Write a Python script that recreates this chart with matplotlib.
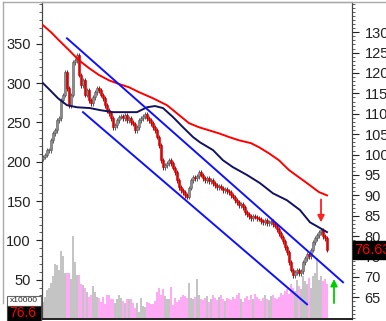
import matplotlib
matplotlib.use("Agg")
import matplotlib.pyplot as plt
import numpy as np
from matplotlib.patches import Rectangle

plt.rcParams['font.family'] = ['Liberation Sans', 'DejaVu Sans']

# ---------------- data ----------------
closes = [99.4, 99.9, 101.1, 101.1, 103.5, 105.2, 106.0, 108.4, 108.9, 113.3,
          114.6, 120.2, 116.3, 112.1, 114.6, 122.6, 123.1, 124.4, 119.5, 117.0,
          118.2, 114.6, 115.8, 113.3, 112.6, 114.1, 115.3, 116.3, 115.8, 114.6,
          113.8, 112.1, 110.9, 110.1, 108.9, 106.7, 107.2, 108.4, 109.2, 109.4,
          108.9, 109.7, 108.4, 108.9, 107.9, 107.5, 106.0, 106.7, 108.4, 108.9,
          109.4, 109.9, 108.9, 108.4, 107.7, 106.7, 106.0, 104.3, 102.3, 98.6,
          96.9, 97.4, 97.9, 98.6, 97.9, 96.7, 95.7, 93.7, 92.0, 91.3,
          90.8, 90.0, 89.6, 91.8, 93.7, 94.5, 94.2, 94.7, 95.7, 95.0,
          94.2, 93.7, 94.2, 93.5, 93.7, 93.0, 92.5, 92.0, 92.3, 91.8,
          91.3, 91.5, 91.0, 90.8, 90.0, 89.6, 88.8, 88.3, 87.6, 87.8,
          87.1, 85.9, 85.4, 84.9, 84.4, 84.9, 84.7, 84.4, 84.2, 83.7,
          83.4, 83.9, 83.2, 83.4, 83.7, 82.9, 82.5, 81.7, 80.7, 79.8,
          78.8, 77.3, 76.1, 73.6, 71.7, 70.4, 71.2, 71.7, 70.9, 71.4,
          73.6, 74.6, 75.6, 75.1, 76.6, 78.5, 79.5, 80.2, 81.0, 81.5,
          80.0, 79.5, 76.63]
first_open = 99.0

volumes = [21, 28, 37, 39, 46, 55, 70, 69, 62, 86, 80, 58, 58, 58, 51, 106, 72, 56, 56, 44,
           43, 39, 34, 28, 31, 42, 34, 28, 27, 22, 28, 19, 31, 31, 25, 25, 20, 25, 31, 27,
           23, 20, 26, 25, 25, 20, 14, 20, 9, 27, 17, 15, 21, 20, 19, 19, 23, 34, 40, 31,
           38, 29, 25, 25, 41, 18, 27, 22, 24, 28, 31, 29, 27, 46, 27, 26,
           28, 51, 30, 26, 24, 27, 29, 22, 25, 31, 27, 24, 28, 30, 26, 23, 27, 25,
           24, 28, 26, 30, 33, 25, 22, 27, 29, 24, 31, 26, 32, 28, 25, 23, 27, 30, 26, 24,
           29, 31, 27, 25, 28, 33, 30,
           35, 38, 32, 45, 40, 36, 50, 42, 38, 55, 48, 44, 52, 40, 55, 58, 78, 50, 55, 48, 51, 45]

# long moving average (red)
ma_long_idx = [0, 4, 8, 13, 18, 23, 28, 33, 38, 43, 48, 55, 62, 68, 73, 78, 88, 93, 98,
               104, 108, 113, 118, 123, 132, 138, 142]
ma_long_val = [131.7, 130.0, 128.0, 125.6, 123.1, 121.2, 119.5, 118.2, 117.3, 116.5,
               115.3, 113.8, 112.1, 109.7, 107.7, 106.7, 105.2, 104.3, 103.5, 102.8,
               101.8, 100.3, 98.6, 96.2, 93.0, 90.8, 90.0]
# medium moving average (navy)
ma_mid_idx = [0, 3.5, 7.5, 12, 17, 23.5, 28.5, 35, 42, 47, 52, 56, 60, 65, 70, 75, 78.5,
              85, 90, 95, 102, 108.5, 115, 122, 128.5, 133.5, 138.5, 142]
ma_mid_val = [117.5, 115.8, 113.8, 112.1, 111.6, 111.4, 110.9, 110.4, 110.4, 110.4,
              111.6, 111.9, 111.4, 109.2, 106.7, 104.3, 103.0, 101.1, 98.6, 96.9,
              95.0, 93.0, 90.5, 88.8, 86.4, 83.4, 82.0, 81.0]
# trend channel (blue)
chan_upper = [(12, 128.5), (150, 68.7)]
chan_lower = [(20, 110.4), (132, 63.3)]

last_price_label = "76.63"
vol_ticks = [50, 100, 150, 200, 250, 300, 350]
price_ticks = [65, 70, 75, 80, 85, 90, 95, 100, 105, 110, 115, 120, 125, 130]

# ---------------- figure ----------------
W, H = 386, 321
fig = plt.figure(figsize=(W / 100, H / 100), dpi=100)
pos = [42 / W, 1 - 319 / H, (352 - 42) / W, (319 - 2) / H]
axv = fig.add_axes(pos)
axp = axv.twinx()

n = len(closes)
x = np.arange(n)
opens = [first_open] + closes[:-1]

up = [c >= o for o, c in zip(opens, closes)]
vcols = ['#c4c4c4' if u else '#ffaaf5' for u in up]
axv.bar(x, volumes, width=0.75, color=vcols, linewidth=0)
axv.set_ylim(0, 403)
axv.set_xlim(-0.5, 154.5)

# candles
for i in range(n):
    o, c = opens[i], closes[i]
    lo, hi = min(o, c), max(o, c)
    col = '#8c8c8c' if up[i] else '#e00000'
    ecol = '#5a5a5a' if up[i] else '#c00000'
    axp.vlines(i, lo - 0.6, hi + 0.6, color=ecol, linewidth=0.7, zorder=3)
    axp.add_patch(Rectangle((i - 0.4, lo), 0.8, max(hi - lo, 0.25),
                            facecolor=col, edgecolor=ecol, linewidth=0.4, zorder=4))

axp.plot(ma_long_idx, ma_long_val, color='#ff0000', linewidth=1.4, zorder=5)
axp.plot(ma_mid_idx, ma_mid_val, color='#12125e', linewidth=1.4, zorder=5)
for seg in (chan_upper, chan_lower):
    axp.plot([seg[0][0], seg[1][0]], [seg[0][1], seg[1][1]], color='#1010ff',
             linewidth=1.4, zorder=5)

# arrows
axp.annotate('', xy=(139, 83.4), xytext=(139, 89.0),
             arrowprops=dict(arrowstyle='-|>', color='#ff2020', lw=1.3,
                             mutation_scale=10, shrinkA=0, shrinkB=0), zorder=6)
axp.annotate('', xy=(145.5, 69.5), xytext=(145.5, 63.6),
             arrowprops=dict(arrowstyle='-|>', color='#00cc00', lw=1.3,
                             mutation_scale=10, shrinkA=0, shrinkB=0), zorder=6)

axp.set_ylim(59.7, 137.4)
axp.set_xlim(-0.5, 154.5)

# axes styling
axv.set_yticks(vol_ticks)
axv.set_yticklabels([str(t) for t in vol_ticks])
axv.set_yticks(np.arange(10, 401, 10), minor=True)
axv.tick_params(axis='y', which='major', direction='out', length=4, width=0.8,
                labelsize=10.5, pad=4, colors='#222222')
axv.tick_params(axis='y', which='minor', direction='out', length=2, width=0.6,
                colors='#444444')
axv.tick_params(axis='x', bottom=False, labelbottom=False)

axp.set_yticks(price_ticks)
axp.set_yticklabels([str(t) for t in price_ticks])
axp.set_yticks(np.arange(60, 138, 1), minor=True)
axp.tick_params(axis='y', which='major', direction='out', length=5, width=0.8,
                labelsize=10.5, pad=4, colors='#222222')
axp.tick_params(axis='y', which='minor', direction='out', length=2.5, width=0.6,
                colors='#444444')

for a in (axv, axp):
    a.spines['top'].set_color('#999999')
    a.spines['left'].set_color('#444444')
    a.spines['right'].set_color('#444444')
    a.spines['bottom'].set_color('#222222')
    a.spines['bottom'].set_linewidth(1.2)

# last price label box
axp.text(1.008, 76.63, last_price_label, transform=axp.get_yaxis_transform(),
         color='#ff0000', fontsize=10.5, va='center', ha='left', zorder=10,
         bbox=dict(boxstyle='square,pad=0.12', facecolor='black', edgecolor='black'),
         clip_on=False)

# decorative frame at figure left / top
fig.add_artist(plt.Line2D([3 / W, 3 / W], [1 - 2 / H, 1 - 303 / H],
                          transform=fig.transFigure, color='#aaaaaa', linewidth=1))
fig.add_artist(plt.Line2D([3 / W, 386 / W], [1 - 2 / H, 1 - 2 / H],
                          transform=fig.transFigure, color='#aaaaaa', linewidth=1))
# bottom-left multiplier boxes
fig.add_artist(Rectangle((7 / W, 1 - 306 / H), 34 / W, 10 / H, transform=fig.transFigure,
                         facecolor='white', edgecolor='#666666', linewidth=0.8))
fig.text(24 / W, 1 - 301 / H, 'x10000', fontsize=6, ha='center', va='center', color='#222222')
fig.add_artist(Rectangle((7 / W, 0), 34 / W, 15 / H, transform=fig.transFigure,
                         facecolor='black', edgecolor='#444444', linewidth=0.8))
fig.text(9 / W, 1 - 313 / H, '76.6', fontsize=10, ha='left', va='center', color='#ff0000')

fig.savefig('out.png', dpi=100)
